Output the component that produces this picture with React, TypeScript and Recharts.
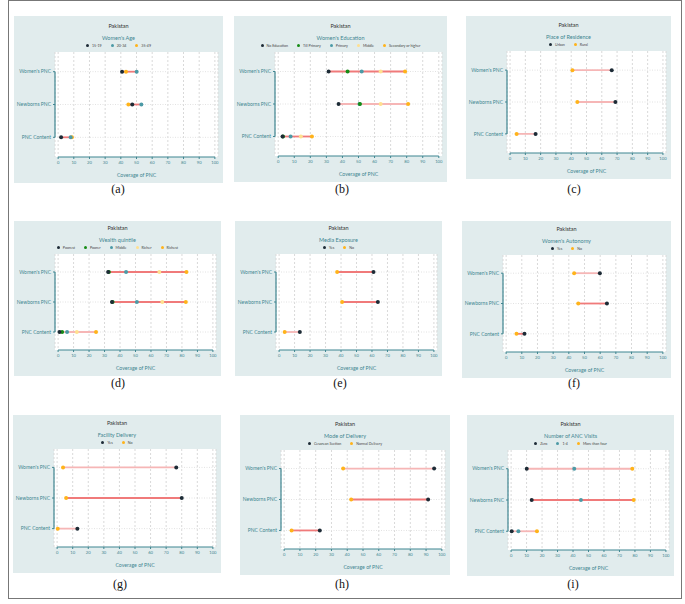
import {
  ComposedChart,
  Scatter,
  XAxis,
  YAxis,
  CartesianGrid,
  ReferenceLine,
} from "recharts";

// rows, top to bottom
const ROW_LABELS = ["Women's PNC", "Newborns PNC", "PNC Content"];
const X_TICKS = [0, 10, 20, 30, 40, 50, 60, 70, 80, 90, 100];

// (a) women's age
const ageNames = ["15-19", "20-34", "35-49"];
const age15to19 = [40.8, 47.3, 1.9];
const age20to34 = [50.1, 53.1, 8.0];
const age35to49 = [43.3, 44.8, 8.8];

// (b) women's education
const eduNames = ["No Education", "Till Primary", "Primary", "Middle", "Secondary or higher"];
const eduNone = [31.4, 37.6, 2.7];
const eduTillPrimary = [43.2, 50.9, 3.0];
const eduPrimary = [52.0, 50.6, 7.7];
const eduMiddle = [63.8, 63.8, 14.1];
const eduSecondary = [79.0, 80.9, 21.0];

// (c) place of residence
const resNames = ["Urban", "Rural"];
const resUrban = [66.5, 68.9, 16.7];
const resRural = [40.8, 44.0, 4.3];

// (d) wealth quintile
const wealthNames = ["Poorest", "Poorer", "Middle", "Richer", "Richest"];
const wealthPoorest = [32.3, 34.8, 0.9];
const wealthPoorer = [32.8, 35.2, 2.6];
const wealthMiddle = [43.9, 50.9, 5.8];
const wealthRicher = [65.4, 67.3, 12.1];
const wealthRichest = [82.9, 82.5, 24.5];

// (e) media exposure
const yesNo = ["Yes", "No"];
const mediaYes = [61.0, 63.8, 13.4];
const mediaNo = [37.5, 40.7, 3.6];

// (f) women's autonomy
const autoYes = [59.8, 64.3, 11.7];
const autoNo = [43.4, 46.0, 6.6];

// (g) facility delivery
const facYes = [76.5, 80.0, 13.0];
const facNo = [3.8, 5.8, 0.4];

// (h) mode of delivery
const modeNames = ["Cesarean Section", "Normal Delivery"];
const modeCesarean = [95.1, 91.3, 22.6];
const modeNormal = [37.4, 42.5, 4.7];

// (i) number of ANC visits
const ancNames = ["Zero", "1-4", "More than four"];
const ancZero = [10.1, 13.3, 0.4];
const anc1to4 = [40.8, 45.1, 4.7];
const ancMore = [78.3, 79.2, 16.7];

const DARK = "#1d2b36";
const GREEN = "#168c16";
const TEALDOT = "#4c9aa6";
const PALE = "#ffe08f";
const ORANGE = "#ffb31a";
const RED = "#f07a7a";
const PINK = "#f6b6b6";
const AXIS = "#3f8691";
const PANEL_BG = "#e1eced";
const FONT = "Lato, 'Open Sans', sans-serif";

type Group = { name: string; color: string; values: number[] };

type PanelProps = {
  x: number;
  y: number;
  w: number;
  h: number;
  plotTop: number;
  legendTitle: string;
  groups: Group[];
  tones: string[];
};

const Dot = (color: string) => (p: any) => (
  <circle cx={p.cx} cy={p.cy} r={2} fill={color} />
);

const n = ROW_LABELS.length;

const RowTick = (p: any) => (
  <text x={p.x} y={p.y} dy={1.7} textAnchor="end" fontSize={5} fill={AXIS} fontFamily={FONT}>
    {ROW_LABELS[n - p.payload.value]}
  </text>
);

function Panel({ x, y, w, h, plotTop, legendTitle, groups, tones }: PanelProps) {
  return (
    <div style={{ position: "absolute", left: x, top: y, width: w, height: h, background: PANEL_BG }}>
      <div
        style={{
          position: "absolute", left: 0, width: w, top: plotTop - 29, textAlign: "center",
          fontFamily: FONT, fontSize: 5.5, color: "#333",
        }}
      >
        Pakistan
      </div>
      <div
        style={{
          position: "absolute", left: 0, width: w, top: plotTop - 17, textAlign: "center",
          fontFamily: FONT, fontSize: 5.5, color: AXIS,
        }}
      >
        {legendTitle}
      </div>
      <div
        style={{
          position: "absolute", left: 0, width: w, top: plotTop - 9.5, display: "flex",
          justifyContent: "center", gap: 9, fontFamily: FONT, fontSize: 3.6, color: "#444",
        }}
      >
        {groups.map((g) => (
          <span key={g.name} style={{ display: "flex", alignItems: "center", gap: 3, lineHeight: "5px" }}>
            <span style={{ width: 3, height: 3, borderRadius: 2, background: g.color, display: "inline-block" }} />
            {g.name}
          </span>
        ))}
      </div>
      <div style={{ position: "absolute", left: 0, top: 0 }}>
        <ComposedChart width={w} height={h} margin={{ top: plotTop, right: 5, bottom: 0, left: 0 }}>
          <CartesianGrid fill="#fff" horizontal={false} stroke="#d9d9d9" strokeDasharray="2 2" />
          <XAxis
            type="number"
            dataKey="x"
            domain={[-2, 102]}
            ticks={X_TICKS}
            interval={0}
            height={26}
            axisLine={false}
            tickLine={{ stroke: AXIS }}
            tickSize={2}
            tick={{ fontSize: 4.2, fill: AXIS, fontFamily: FONT }}
            label={{ value: "Coverage of PNC", position: "insideBottom", offset: 6, fontSize: 5.2, fill: AXIS, fontFamily: FONT }}
          />
          <YAxis
            type="number"
            dataKey="y"
            domain={[0.4, n + 0.6]}
            ticks={ROW_LABELS.map((_, i) => n - i)}
            width={41}
            axisLine={false}
            tickLine={{ stroke: AXIS }}
            tickSize={2}
            tick={RowTick}
          />
          {ROW_LABELS.map((_, i) => (
            <ReferenceLine key={"g" + i} y={n - i} stroke="#e2e2e2" strokeDasharray="1 1.5" />
          ))}
          <ReferenceLine
            segment={[{ x: 0, y: 0.4 }, { x: 100, y: 0.4 }]}
            stroke={AXIS}
            strokeWidth={1.2}
            ifOverflow="visible"
          />
          <ReferenceLine
            segment={[{ x: -2, y: 1 }, { x: -2, y: n }]}
            stroke={AXIS}
            strokeWidth={1.2}
            ifOverflow="visible"
          />
          {ROW_LABELS.map((_, i) => {
            const vals = groups.map((g) => g.values[i]);
            return (
              <ReferenceLine
                key={"d" + i}
                segment={[{ x: Math.min(...vals), y: n - i }, { x: Math.max(...vals), y: n - i }]}
                stroke={tones[i]}
                strokeWidth={1.8}
                ifOverflow="visible"
              />
            );
          })}
          {[...groups].reverse().map((g) => (
            <Scatter
              key={g.name}
              name={g.name}
              data={g.values.map((v, i) => ({ x: v, y: n - i }))}
              shape={Dot(g.color)}
              isAnimationActive={false}
            />
          ))}
        </ComposedChart>
      </div>
    </div>
  );
}

const Caption = ({ x, y, text }: { x: number; y: number; text: string }) => (
  <div
    style={{
      position: "absolute", left: x - 20, top: y - 8, width: 40, textAlign: "center",
      fontFamily: "'Liberation Serif', 'Times New Roman', serif", fontSize: 12, color: "#111",
    }}
  >
    {text}
  </div>
);

export default function App() {
  return (
    <div style={{ position: "absolute", left: 0, top: 0, width: 685, height: 604, background: "#fff", overflow: "hidden" }}>
      <div style={{ position: "absolute", left: 8, top: 0, width: 672, height: 597, border: "1px solid #777" }} />

      <Panel x={14} y={16} w={209} h={167} plotTop={36} legendTitle="Women's Age" tones={[RED, RED, RED]}
        groups={[
          { name: ageNames[0], color: DARK, values: age15to19 },
          { name: ageNames[1], color: TEALDOT, values: age20to34 },
          { name: ageNames[2], color: ORANGE, values: age35to49 },
        ]}
      />
      <Panel x={234} y={16} w={213} h={166} plotTop={36} legendTitle="Women's Education" tones={[RED, PINK, RED]}
        groups={[
          { name: eduNames[0], color: DARK, values: eduNone },
          { name: eduNames[1], color: GREEN, values: eduTillPrimary },
          { name: eduNames[2], color: TEALDOT, values: eduPrimary },
          { name: eduNames[3], color: PALE, values: eduMiddle },
          { name: eduNames[4], color: ORANGE, values: eduSecondary },
        ]}
      />
      <Panel x={466} y={16} w={205} h={163} plotTop={35} legendTitle="Place of Residence" tones={[PINK, PINK, PINK]}
        groups={[
          { name: resNames[0], color: DARK, values: resUrban },
          { name: resNames[1], color: ORANGE, values: resRural },
        ]}
      />

      <Panel x={14} y={221} w={207} h={155} plotTop={33} legendTitle="Wealth quintile" tones={[RED, RED, PINK]}
        groups={[
          { name: wealthNames[0], color: DARK, values: wealthPoorest },
          { name: wealthNames[1], color: GREEN, values: wealthPoorer },
          { name: wealthNames[2], color: TEALDOT, values: wealthMiddle },
          { name: wealthNames[3], color: PALE, values: wealthRicher },
          { name: wealthNames[4], color: ORANGE, values: wealthRichest },
        ]}
      />
      <Panel x={235} y={221} w={207} h={155} plotTop={33} legendTitle="Media Exposure" tones={[RED, RED, PINK]}
        groups={[
          { name: yesNo[0], color: DARK, values: mediaYes },
          { name: yesNo[1], color: ORANGE, values: mediaNo },
        ]}
      />
      <Panel x={462} y={221} w={209} h={157} plotTop={34} legendTitle="Women's Autonomy" tones={[PINK, RED, RED]}
        groups={[
          { name: yesNo[0], color: DARK, values: autoYes },
          { name: yesNo[1], color: ORANGE, values: autoNo },
        ]}
      />

      <Panel x={13} y={415} w={208} h={158} plotTop={34} legendTitle="Facility Delivery" tones={[PINK, RED, PINK]}
        groups={[
          { name: yesNo[0], color: DARK, values: facYes },
          { name: yesNo[1], color: ORANGE, values: facNo },
        ]}
      />
      <Panel x={240} y={415} w={210} h={160} plotTop={35} legendTitle="Mode of Delivery" tones={[PINK, RED, RED]}
        groups={[
          { name: modeNames[0], color: DARK, values: modeCesarean },
          { name: modeNames[1], color: ORANGE, values: modeNormal },
        ]}
      />
      <Panel x={467} y={415} w={207} h={161} plotTop={35} legendTitle="Number of ANC Visits" tones={[PINK, RED, PINK]}
        groups={[
          { name: ancNames[0], color: DARK, values: ancZero },
          { name: ancNames[1], color: TEALDOT, values: anc1to4 },
          { name: ancNames[2], color: ORANGE, values: ancMore },
        ]}
      />

      <Caption x={118} y={190} text="(a)" />
      <Caption x={342} y={190} text="(b)" />
      <Caption x={574} y={190} text="(c)" />
      <Caption x={118} y={384} text="(d)" />
      <Caption x={340} y={384} text="(e)" />
      <Caption x={574} y={384} text="(f)" />
      <Caption x={120} y={585} text="(g)" />
      <Caption x={342} y={585} text="(h)" />
      <Caption x={573} y={585} text="(i)" />
    </div>
  );
}
